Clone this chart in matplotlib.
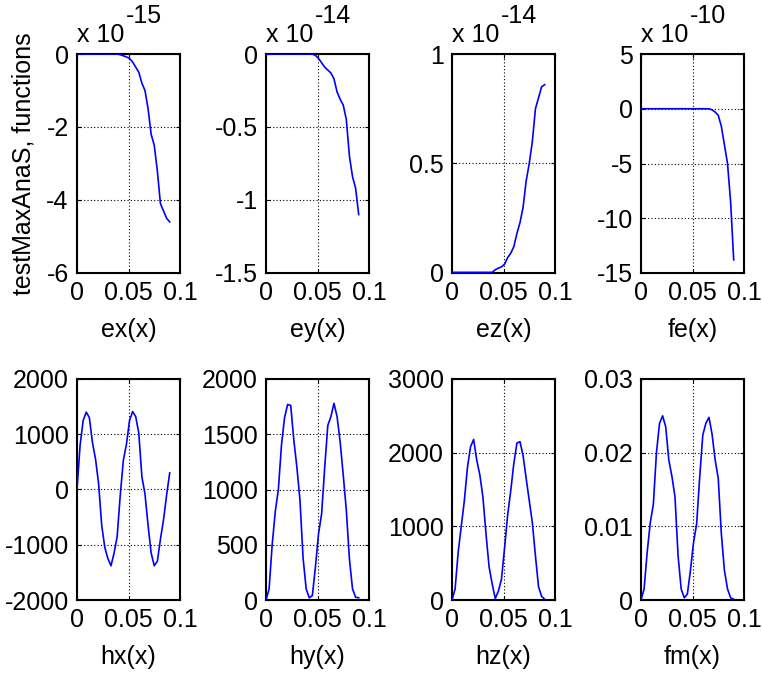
import matplotlib
matplotlib.use("Agg")
import matplotlib.pyplot as plt
from matplotlib.ticker import FuncFormatter

plt.rcParams["font.family"] = ["Liberation Sans", "DejaVu Sans"]

# x grid of the solver output
X = [0.000, 0.003, 0.006, 0.009, 0.012, 0.015, 0.018, 0.021, 0.024, 0.027,
     0.030, 0.033, 0.036, 0.039, 0.042, 0.045, 0.048, 0.051, 0.054, 0.057,
     0.060, 0.063, 0.066, 0.069, 0.072, 0.075, 0.078, 0.081, 0.084, 0.087,
     0.090]

# top row, values given in units of the axis multiplier
EX = [0, 0, 0, 0, 0, 0, 0, 0, 0, 0, 0, 0, 0, 0, -0.02, -0.05, -0.08, -0.12,
      -0.22, -0.36, -0.5, -0.8, -1.0, -1.5, -2.2, -2.5, -3.2, -4.1, -4.3,
      -4.5, -4.6]
EY = [0, 0, 0, 0, 0, 0, 0, 0, 0, 0, 0, 0, 0, 0, 0, 0, -0.01, -0.03, -0.06,
      -0.09, -0.11, -0.13, -0.17, -0.26, -0.31, -0.35, -0.45, -0.7, -0.84,
      -0.92, -1.1]
EZ = [0.003, 0.003, 0.003, 0.003, 0.003, 0.003, 0.003, 0.003, 0.003, 0.003,
      0.003, 0.003, 0.003, 0.003, 0.015, 0.022, 0.028, 0.04, 0.07, 0.09,
      0.12, 0.18, 0.23, 0.3, 0.42, 0.5, 0.6, 0.75, 0.8, 0.85, 0.86]
FE = [0, 0, 0, 0, 0, 0, 0, 0, 0, 0, 0, 0, 0, 0, 0, 0, 0, 0, 0, 0, 0, 0, 0,
      -0.1, -0.3, -0.6, -1.6, -3.3, -5.0, -8.5, -13.8]

# bottom row
HX = [0, 800, 1250, 1400, 1300, 850, 550, 100, -650, -1050, -1250, -1380,
      -1150, -850, -100, 530, 820, 1250, 1410, 1320, 1020, 230, -80, -650,
      -1150, -1380, -1300, -900, -550, -100, 300]
HY = [0, 100, 500, 800, 1000, 1400, 1650, 1770, 1760, 1450, 1200, 900, 380,
      100, 20, 40, 300, 600, 780, 1200, 1580, 1660, 1780, 1660, 1430, 1130,
      810, 370, 100, 25, 20]
HZ = [0, 150, 650, 1000, 1350, 1800, 2080, 2180, 1900, 1700, 1400, 900, 450,
      220, 20, 120, 280, 700, 1150, 1480, 1850, 2130, 2150, 1960, 1650, 1350,
      1050, 600, 180, 50, 10]
FM = [0, 0.0015, 0.0065, 0.0105, 0.013, 0.02, 0.024, 0.025, 0.0235, 0.019,
      0.0168, 0.014, 0.006, 0.0015, 0.0003, 0.0008, 0.004, 0.0078, 0.0103,
      0.0167, 0.0224, 0.024, 0.0248, 0.0225, 0.019, 0.0165, 0.009, 0.004,
      0.0015, 0.0003, 0.0001]

SERIES = [EX, EY, EZ, FE, HX, HY, HZ, FM]
NAMES = ["ex(x)", "ey(x)", "ez(x)", "fe(x)", "hx(x)", "hy(x)", "hz(x)", "fm(x)"]
EXPONENTS = ["-15", "-14", "-14", "-10", None, None, None, None]
YTICKS = [
    [-6, -4, -2, 0],
    [-1.5, -1, -0.5, 0],
    [0, 0.5, 1],
    [-15, -10, -5, 0, 5],
    [-2000, -1000, 0, 1000, 2000],
    [0, 500, 1000, 1500, 2000],
    [0, 1000, 2000, 3000],
    [0, 0.01, 0.02, 0.03],
]
XTICKS = [0, 0.05, 0.1]

W, H = 762, 675
FS = 18
LEFTS = [77, 266, 452, 641]     # pixel left edges
AX_W = 103
ROWS = [(54, 273), (379, 600)]  # pixel top/bottom of each row


def matlab_fmt(v, pos):
    return "%g" % round(v, 6)


fig = plt.figure(figsize=(W / 100, H / 100), dpi=100)
fig.patch.set_facecolor("white")

for i, y in enumerate(SERIES):
    row, col = divmod(i, 4)
    top, bot = ROWS[row]
    ax = fig.add_axes([LEFTS[col] / W, 1 - bot / H, AX_W / W, (bot - top) / H])
    ax.plot(X, y, color="#0000ff", linewidth=1.2, zorder=3)

    yt = YTICKS[i]
    ax.set_xlim(0, 0.1)
    ax.set_ylim(yt[0], yt[-1])
    ax.set_xticks(XTICKS)
    ax.set_yticks(yt)
    ax.xaxis.set_major_formatter(FuncFormatter(matlab_fmt))
    ax.yaxis.set_major_formatter(FuncFormatter(matlab_fmt))
    ax.tick_params(direction="in", length=3, width=0.8, labelsize=FS,
                   colors="black", top=True, right=True)
    ax.tick_params(axis="x", pad=6)
    ax.tick_params(axis="y", pad=6)
    ax.grid(True, color="black", linestyle=(0, (1, 2)), linewidth=0.8)
    for sp in ax.spines.values():
        sp.set_linewidth(1.5)
    ax.set_xlabel(NAMES[i], fontsize=FS, labelpad=9)

    if EXPONENTS[i] is not None:
        ax.annotate("x 10", xy=(0, 1), xycoords="axes fraction",
                    xytext=(0, 8.5), textcoords="offset points",
                    ha="left", va="baseline", fontsize=FS)
        ax.annotate(EXPONENTS[i], xy=(0, 1), xycoords="axes fraction",
                    xytext=(35, 22.5), textcoords="offset points",
                    ha="left", va="baseline", fontsize=FS)

    if i == 0:
        ax.set_ylabel("testMaxAnaS, functions", fontsize=FS, labelpad=8)

fig.savefig("out.png", dpi=100, facecolor="white")
